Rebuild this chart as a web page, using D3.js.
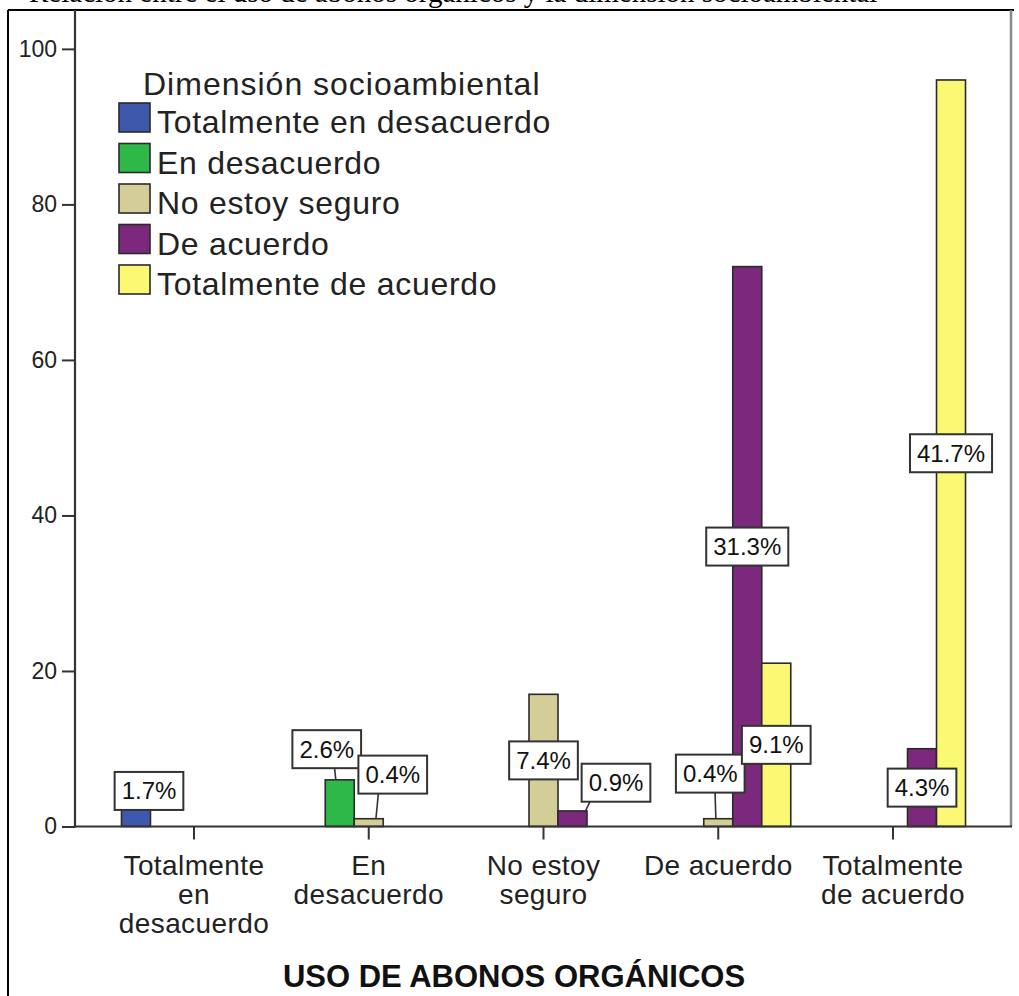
<!DOCTYPE html>
<html><head><meta charset="utf-8">
<script src="https://cdn.jsdelivr.net/npm/d3@7/dist/d3.min.js"></script>
<style>
html,body{margin:0;padding:0;background:#fff;}
svg{display:block;}
text{font-family:"Liberation Sans",Arial,sans-serif;}
</style></head>
<body>
<svg id="chart" width="1019" height="996"></svg>
<script>
// ---- data ----
const categories = ["Totalmente en desacuerdo","En desacuerdo","No estoy seguro","De acuerdo","Totalmente de acuerdo"];
const categoryLines = [["Totalmente","en","desacuerdo"],["En","desacuerdo"],["No estoy","seguro"],["De acuerdo"],["Totalmente","de acuerdo"]];
const seriesNames = ["Totalmente en desacuerdo","En desacuerdo","No estoy seguro","De acuerdo","Totalmente de acuerdo"];
// counts per series (rows) for each category (columns); null = no bar
const sTotDes = [4, null, null, null, null];
const sEnDes  = [null, 6, null, null, null];
const sNoSeg  = [null, 1, 17, 1, null];
const sDeAc   = [null, null, 2, 72, 10];
const sTotAc  = [null, null, null, 21, 96];
const seriesValues = [sTotDes, sEnDes, sNoSeg, sDeAc, sTotAc];
const yTicks = [0, 20, 40, 60, 80, 100];
const legendTitle = "Dimensión socioambiental";
const xTitle = "USO DE ABONOS ORGÁNICOS";
const pageTitle = "Relación entre el uso de abonos orgánicos y la dimensión socioambiental";

// ---- styles / layout ----
const colors = ["#3e58ac","#2eb848","#d3ce97","#7c287d","#fbf873"];
// label nudges (pixels) for crowded small bars, keyed "series-category"
const labelNudge = {"0-0":[13,-20],"1-1":[-13,-54],"2-1":[24,-48],"3-2":[43.5,-36],"2-3":[-8,-49]};

const svg = d3.select("#chart");
const plot = {left:75, right:1011, top:10, bottom:826.5};

const y = d3.scaleLinear().domain([0,105]).range([plot.bottom, plot.top]);
const x = d3.scaleBand().domain(categories).range([106.6, 980.4]).padding(0);
const xs = d3.scaleBand().domain(seriesNames.map((d,i)=>i)).range([-72.5, 72.5]).padding(0);

// clipped page title at very top (only its lower part is visible, as in the source)
svg.append("text").attr("x",29).attr("y",1.5)
  .style("font-family","'Liberation Serif','Times New Roman',serif")
  .attr("font-size",29).attr("fill","#000").text(pageTitle);

// outer frame
svg.append("line").attr("x1",8).attr("x2",1014).attr("y1",10).attr("y2",10).attr("stroke","#000").attr("stroke-width",2);
svg.append("line").attr("x1",8).attr("x2",8).attr("y1",10).attr("y2",996).attr("stroke","#000").attr("stroke-width",2);
// plot right border
svg.append("line").attr("x1",plot.right).attr("x2",plot.right).attr("y1",plot.top).attr("y2",plot.bottom).attr("stroke","#888").attr("stroke-width",2.5);

// bars
const total = d3.sum(seriesValues.flat().filter(v=>v!=null));
const bars = [];
seriesValues.forEach((vals,si)=>{
  vals.forEach((v,ci)=>{ if(v!=null) bars.push({si,ci,v}); });
});
svg.append("g").selectAll("rect").data(bars).join("rect")
  .attr("x",d=>x(categories[d.ci])+x.bandwidth()/2+xs(d.si))
  .attr("y",d=>y(d.v))
  .attr("width",xs.bandwidth())
  .attr("height",d=>y(0)-y(d.v))
  .attr("fill",d=>colors[d.si])
  .attr("stroke","#2a2a2a").attr("stroke-width",1.6);

// axes
const yAxis = d3.axisLeft(y).tickValues(yTicks).tickSize(13).tickPadding(5);
const gy = svg.append("g").attr("transform",`translate(${plot.left},0)`).call(yAxis);
gy.select(".domain").remove();
gy.selectAll(".tick line").attr("stroke","#333").attr("stroke-width",2);
gy.selectAll(".tick text").attr("font-size",23).attr("fill","#222").style("font-family","'Liberation Sans',Arial,sans-serif");
svg.append("line").attr("x1",plot.left).attr("x2",plot.left).attr("y1",plot.top).attr("y2",plot.bottom+1).attr("stroke","#333").attr("stroke-width",2.2);

const xAxis = d3.axisBottom(x).tickSize(13).tickFormat("");
const gx = svg.append("g").attr("transform",`translate(0,${plot.bottom})`).call(xAxis);
gx.select(".domain").remove();
gx.selectAll(".tick line").attr("stroke","#333").attr("stroke-width",2);
svg.append("line").attr("x1",plot.left).attr("x2",plot.right+1).attr("y1",plot.bottom).attr("y2",plot.bottom).attr("stroke","#333").attr("stroke-width",2.2);

// category labels
categories.forEach((c,ci)=>{
  const t = svg.append("text").attr("text-anchor","middle").attr("font-size",28).attr("fill","#222")
    .attr("letter-spacing",0.4);
  categoryLines[ci].forEach((ln,li)=>{
    t.append("tspan").attr("x",x(c)+x.bandwidth()/2).attr("y",875+li*29).text(ln);
  });
});

// x title
svg.append("text").attr("x",514).attr("y",987).attr("text-anchor","middle").attr("font-size",31)
  .attr("font-weight","bold").attr("fill","#111").text(xTitle);

// value labels
const lblG = svg.append("g");
bars.forEach(d=>{
  const bx = x(categories[d.ci])+x.bandwidth()/2+xs(d.si)+xs.bandwidth()/2;
  const btop = y(d.v);
  const nud = labelNudge[d.si+"-"+d.ci] || [0,0];
  const cx = bx + nud[0];
  const cy = (btop + y(0))/2 + nud[1];
  const txt = d3.format(".1f")(d.v/total*100)+"%";
  const tmp = lblG.append("text").attr("font-size",24).attr("text-anchor","middle").attr("x",cx).attr("y",cy+8.5).attr("fill","#111").text(txt);
  const w = tmp.node().getComputedTextLength()+14;
  const h = 38;
  if (cy + h/2 < btop - 1) {
    const sx = Math.max(cx-w/2+6, Math.min(cx+w/2-6, cx + 0.6*(bx-cx)));
    lblG.insert("line","text").attr("x1",sx).attr("y1",cy+h/2).attr("x2",bx-0.3*(bx-cx)).attr("y2",btop)
      .attr("stroke","#333").attr("stroke-width",1.6);
  }
  lblG.insert("rect","text").attr("x",cx-w/2).attr("y",cy-h/2).attr("width",w).attr("height",h)
    .attr("fill","#fff").attr("stroke","#333").attr("stroke-width",2);
  tmp.raise();
});

// legend
const lg = svg.append("g");
lg.append("text").attr("x",143).attr("y",95).attr("font-size",32).attr("letter-spacing",1).attr("fill","#222").text(legendTitle);
seriesNames.forEach((s,i)=>{
  const yy = 103 + i*40.5;
  lg.append("rect").attr("x",119).attr("y",yy).attr("width",31).attr("height",29)
    .attr("fill",colors[i]).attr("stroke","#2a2a2a").attr("stroke-width",1.6);
  lg.append("text").attr("x",157).attr("y",yy+30).attr("font-size",32).attr("letter-spacing",0.7).attr("fill","#222").text(s);
});
</script>
</body></html>
